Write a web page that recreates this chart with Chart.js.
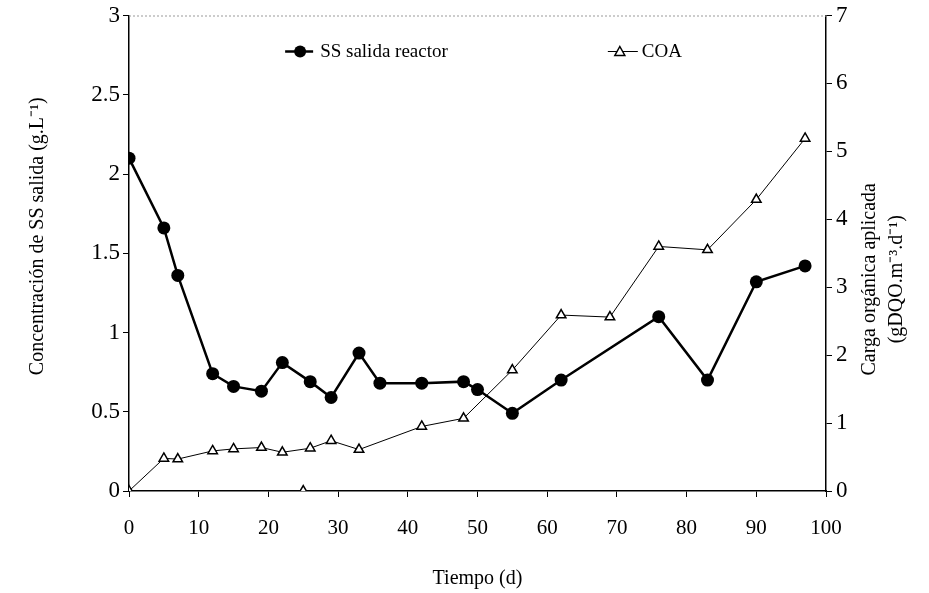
<!DOCTYPE html>
<html>
<head>
<meta charset="utf-8">
<script src="https://cdn.jsdelivr.net/npm/chart.js@4/dist/chart.umd.min.js"></script>
<style>
  html, body { margin: 0; padding: 0; background: #fff; }
  #wrap { width: 929px; height: 593px; }
</style>
</head>
<body>
<div id="wrap"><canvas id="chart"></canvas></div>
<script>
// --- datos ---
const diasSS = [0, 5, 7, 12, 15, 19, 22, 26, 29, 33, 36, 42, 48, 50, 55, 62, 76, 83, 90, 97];
const ssSalida = [2.1, 1.66, 1.36, 0.74, 0.66, 0.63, 0.81, 0.69, 0.59, 0.87, 0.68, 0.68, 0.69, 0.64, 0.49, 0.70, 1.10, 0.70, 1.32, 1.42];

const diasCOA = [0, 5, 7, 12, 15, 19, 22, 26, 29, 33, 42, 48, 55, 62, 69, 76, 83, 90, 97];
const coa = [0, 0.48, 0.47, 0.59, 0.62, 0.64, 0.57, 0.63, 0.74, 0.61, 0.95, 1.07, 1.78, 2.59, 2.56, 3.60, 3.55, 4.29, 5.19];

// punto suelto de COA sobre el eje
const diasSuelto = [25];
const coaSuelto = [0];

const ticksX = [0, 10, 20, 30, 40, 50, 60, 70, 80, 90, 100];

const FONT = "'Liberation Serif', 'Times New Roman', serif";

function pares(xs, ys) {
    return xs.map((d, i) => ({ x: d, y: ys[i] }));
}

// leyenda dentro del área, títulos de los ejes Y y borde superior punteado
const extras = {
    id: 'extras',
    afterDraw(chart) {
        const ctx = chart.ctx;
        const a = chart.chartArea;
        const midY = (a.top + a.bottom) / 2;
        ctx.save();

        // borde superior punteado
        ctx.strokeStyle = '#999';
        ctx.lineWidth = 1;
        ctx.setLineDash([2, 2]);
        ctx.beginPath();
        ctx.moveTo(a.left, a.top + 0.5);
        ctx.lineTo(a.right, a.top + 0.5);
        ctx.stroke();
        ctx.setLineDash([]);

        // leyenda
        const ly = a.top + 36;
        ctx.font = '19px ' + FONT;
        ctx.fillStyle = '#000';
        ctx.textBaseline = 'middle';

        let lx = a.left + 0.224 * (a.right - a.left);
        ctx.strokeStyle = '#000';
        ctx.lineWidth = 2.5;
        ctx.beginPath();
        ctx.moveTo(lx, ly);
        ctx.lineTo(lx + 28, ly);
        ctx.stroke();
        ctx.beginPath();
        ctx.arc(lx + 15, ly, 6, 0, Math.PI * 2);
        ctx.fill();
        ctx.fillText('SS salida reactor', lx + 35, ly + 1);

        lx = a.left + 0.687 * (a.right - a.left);
        ctx.lineWidth = 1;
        ctx.beginPath();
        ctx.moveTo(lx, ly);
        ctx.lineTo(lx + 30, ly);
        ctx.stroke();
        ctx.lineWidth = 1.5;
        ctx.fillStyle = '#fff';
        ctx.beginPath();
        ctx.moveTo(lx + 12, ly - 5);
        ctx.lineTo(lx + 17, ly + 4);
        ctx.lineTo(lx + 7, ly + 4);
        ctx.closePath();
        ctx.fill();
        ctx.stroke();
        ctx.fillStyle = '#000';
        ctx.fillText('COA', lx + 34, ly + 1);

        ctx.font = '20px ' + FONT;
        ctx.textAlign = 'center';

        // título del eje izquierdo
        ctx.save();
        ctx.translate(38, midY - 17);
        ctx.rotate(-Math.PI / 2);
        ctx.fillText('Concentración de SS salida (g.L\u207B\u00B9)', 0, 0);
        ctx.restore();

        // título del eje derecho (leído de abajo hacia arriba)
        ctx.translate(a.right + 44, midY + 26);
        ctx.rotate(-Math.PI / 2);
        ctx.fillText('Carga orgánica aplicada', 0, 0);
        ctx.fillText('(gDQO.m\u207B\u00B3.d\u207B\u00B9)', 0, 27);
        ctx.restore();
    }
};

const chart = new Chart(document.getElementById('chart'), {
    type: 'line',
    data: {
        datasets: [
            {
                label: 'SS salida reactor',
                data: pares(diasSS, ssSalida),
                yAxisID: 'y',
                borderColor: '#000',
                backgroundColor: '#000',
                borderWidth: 2.5,
                pointStyle: 'circle',
                pointRadius: 6.5,
                pointBorderWidth: 0,
                tension: 0
            },
            {
                label: 'COA',
                data: pares(diasCOA, coa),
                yAxisID: 'y2',
                borderColor: '#000',
                backgroundColor: '#fff',
                borderWidth: 1,
                pointStyle: 'triangle',
                pointRadius: 5.5,
                pointBorderWidth: 1.5,
                tension: 0
            },
            {
                label: 'COA suelto',
                data: pares(diasSuelto, coaSuelto),
                yAxisID: 'y2',
                showLine: false,
                borderColor: '#000',
                backgroundColor: '#fff',
                pointStyle: 'triangle',
                pointRadius: 5.5,
                pointBorderWidth: 1.5
            }
        ]
    },
    options: {
        responsive: true,
        maintainAspectRatio: false,
        animation: false,
        layout: { padding: { top: 15, left: 0, right: 0, bottom: 0 } },
        plugins: {
            legend: { display: false },
            tooltip: { enabled: false }
        },
        scales: {
            x: {
                type: 'linear',
                min: 0,
                max: 100,
                afterBuildTicks: s => { s.ticks = ticksX.map(v => ({ value: v })); },
                ticks: { color: '#000', font: { family: FONT, size: 21 }, padding: 19, maxRotation: 0 },
                grid: { drawOnChartArea: false, color: '#000', tickLength: 6 },
                border: { color: '#000', width: 1.5 },
                title: {
                    display: true,
                    text: 'Tiempo (d)',
                    color: '#000',
                    font: { family: FONT, size: 20 },
                    padding: { top: 0, bottom: 2 }
                },
                afterFit: s => { s.height = 102; }
            },
            y: {
                position: 'left',
                min: 0,
                max: 3,
                ticks: { stepSize: 0.5, color: '#000', font: { family: FONT, size: 23, lineHeight: 1 }, padding: 3, callback: v => v },
                grid: { drawOnChartArea: false, color: '#000', tickLength: 6 },
                border: { color: '#000', width: 1.5 },
                afterFit: s => { s.width = 129; }
            },
            y2: {
                position: 'right',
                min: 0,
                max: 7,
                ticks: { stepSize: 1, color: '#000', font: { family: FONT, size: 23, lineHeight: 1 }, padding: 4 },
                grid: { drawOnChartArea: false, color: '#000', tickLength: 6 },
                border: { color: '#000', width: 1.5 },
                afterFit: s => { s.width = 103; }
            }
        }
    },
    plugins: [extras]
});
</script>
</body>
</html>
